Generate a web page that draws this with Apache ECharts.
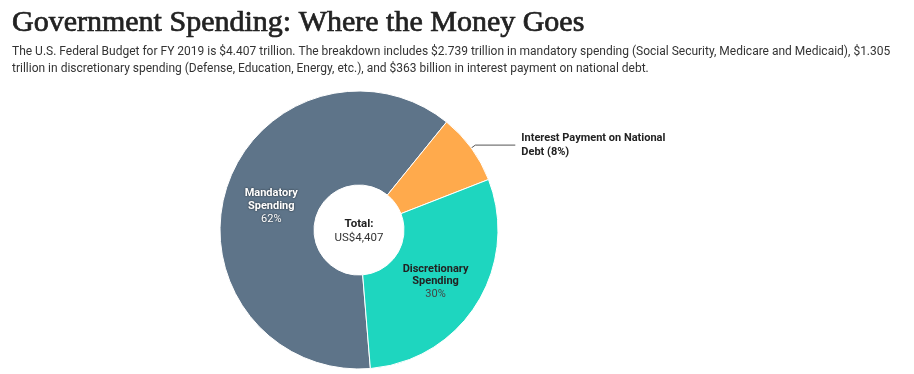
<!DOCTYPE html>
<html><head><meta charset="utf-8">
<script src="https://cdn.jsdelivr.net/npm/echarts@6/dist/echarts.min.js"></script>
<style>html,body{margin:0;padding:0;background:#fff}#c{width:914px;height:374px}</style>
</head><body><div id="c"></div>
<script>
const categories = ['Mandatory Spending', 'Interest Payment on National Debt', 'Discretionary Spending'];
const values = [2.739, 0.363, 1.305];
const percentLabels = ['62%', '8%', '30%'];
const totalLabel = 'US$4,407';
const colors = ['#5e7489', '#ffaa4c', '#1ed6bf'];

const chart = echarts.init(document.getElementById('c'), null, {renderer: 'canvas'});
const FF = 'Roboto';
const data = categories.map((name, i) => {
  const d = {name, value: values[i], itemStyle: {color: colors[i]}};
  if (i === 0) {
    d.label = {position: 'inside', offset: [3, 4], formatter: '{b|Mandatory\nSpending}\n{p|' + percentLabels[i] + '}',
      rich: {b: {fontWeight: 'bold', color: '#fff', fontSize: 11, lineHeight: 13, fontFamily: FF, textShadowColor: 'rgba(0,0,0,0.7)', textShadowBlur: 2},
             p: {color: '#fff', fontSize: 11, lineHeight: 13, fontFamily: FF, textShadowColor: 'rgba(0,0,0,0.6)', textShadowBlur: 2}}};
    d.labelLine = {show: false};
  } else if (i === 2) {
    d.label = {position: 'inside', offset: [-4, 1], formatter: '{b|Discretionary\nSpending}\n{p|' + percentLabels[i] + '}',
      rich: {b: {fontWeight: 'bold', color: '#222', fontSize: 11, lineHeight: 12.5, fontFamily: FF},
             p: {color: '#444', fontSize: 11, lineHeight: 12.5, fontFamily: FF}}};
    d.labelLine = {show: false};
  } else {
    d.label = {position: 'outside', formatter: 'Interest Payment on National\nDebt (' + percentLabels[i] + ')',
      fontWeight: 'bold', color: '#222', fontSize: 11, lineHeight: 14, fontFamily: FF, align: 'left', distanceToLabelLine: 6};
    d.labelLine = {show: true, length: 5, length2: 40, lineStyle: {color: '#555', width: 1}};
  }
  return d;
});

chart.setOption({
  animation: false,
  title: [{
    text: 'Government Spending: Where the Money Goes',
    left: 7, top: 3,
    textStyle: {fontFamily: 'Liberation Serif', fontSize: 30, fontWeight: 'normal', color: '#222', textBorderColor: '#222', textBorderWidth: 0.7}
  }, {
    text: 'The U.S. Federal Budget for FY 2019 is $4.407 trillion. The breakdown includes $2.739 trillion in mandatory spending (Social Security, Medicare and Medicaid), $1.305\ntrillion in discretionary spending (Defense, Education, Energy, etc.), and $363 billion in interest payment on national debt.',
    left: 7, top: 38,
    textStyle: {fontFamily: 'Roboto', fontSize: 12, fontWeight: 'normal', color: '#333', lineHeight: 17}
  }],
  series: [{
    type: 'pie',
    center: [359, 230],
    radius: [45, 139],
    startAngle: -85.3,
    clockwise: true,
    avoidLabelOverlap: false,
    itemStyle: {borderColor: '#fff', borderWidth: 1},
    label: {show: true},
    emphasis: {disabled: true},
    data: data
  }, {
    type: 'pie',
    center: [359, 231],
    radius: [0, 0],
    silent: true,
    label: {show: true, position: 'center', formatter: '{t|Total:}\n{v|' + totalLabel + '}',
      rich: {t: {fontWeight: 'bold', fontSize: 11.5, color: '#222', fontFamily: FF, lineHeight: 14},
             v: {fontSize: 11.5, color: '#333', fontFamily: FF, lineHeight: 14}}},
    labelLine: {show: false},
    data: [{value: 1, name: 'total', itemStyle: {color: 'transparent'}}]
  }]
});
</script></body></html>
